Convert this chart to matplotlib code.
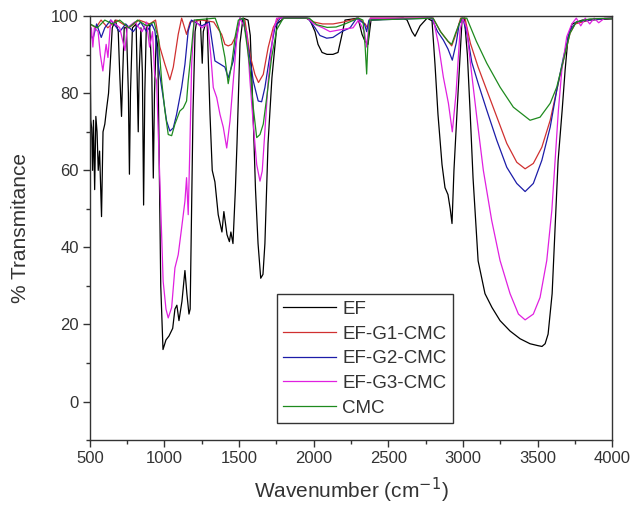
import matplotlib
matplotlib.use("Agg")
import matplotlib.pyplot as plt
from matplotlib.ticker import MultipleLocator

plt.rcParams['font.family'] = ['Liberation Sans', 'DejaVu Sans']

# FTIR spectra (wavenumber, % transmittance)
ef_x = [500, 506, 512, 518, 524, 532, 540, 548, 556, 565, 578, 588, 600, 612, 625, 640, 650,
        670, 690, 700, 712, 720, 730, 745, 758, 765, 772, 785, 810, 818, 824, 830, 842, 852,
        860, 868, 878, 900, 915, 925, 933, 945, 955, 965, 975, 990, 1010, 1030, 1055, 1070,
        1083, 1097, 1117, 1137, 1150, 1164, 1172, 1191, 1205, 1217, 1240, 1248, 1253, 1260,
        1285, 1305, 1320, 1338, 1360, 1385, 1398, 1419, 1435, 1445, 1459, 1475, 1486, 1506,
        1526, 1560, 1575, 1593, 1610, 1627, 1645, 1660, 1673, 1694, 1720, 1754, 1800, 1950,
        1975, 2009, 2029, 2056, 2089, 2129, 2163, 2190, 2210, 2297, 2324, 2344, 2364, 2384,
        2600, 2626, 2659, 2679, 2700, 2713, 2760, 2793, 2813, 2833, 2860, 2880, 2900, 2915,
        2927, 2940, 2961, 2994, 3010, 3030, 3048, 3068, 3102, 3148, 3195, 3249, 3316, 3383,
        3450, 3504, 3530, 3551, 3571, 3598, 3618, 3638, 3665, 3685, 3705, 3732, 3800, 4000]
ef_y = [95, 73, 71, 60, 73, 55, 74, 70, 60, 65, 48, 70, 72, 76, 80, 90, 97,
        99, 96, 85, 74, 85, 97, 97, 80, 59, 80, 97, 98, 82, 70, 85, 97, 85,
        51, 80, 97, 98, 85, 58, 80, 95, 92, 60, 30, 13.5, 16, 17, 19, 24,
        25, 21, 26, 34, 28, 22.7, 24, 75, 96, 99, 99, 92, 87.8, 96,
        99.5, 74.5, 60, 57, 48.5, 44, 49.3, 43.3, 41.5, 44, 41, 55, 67, 93,
        99.5, 99, 95, 75.5, 55, 41, 32, 33, 41, 67, 84, 98, 99.5, 99.5,
        99, 96, 92.7, 90.6, 90.1, 90.1, 90.6, 95.3, 99, 99.5, 95.3, 93.5, 92.7, 99,
        99.5, 99, 96, 94.8, 96.5, 97.5, 99.5, 98.8, 87.5, 74.5, 61.5, 55.5, 53.7, 50,
        46.2, 60, 75.5, 99, 99.5, 90, 75.5, 58, 36.5, 28, 24.4, 21, 18.3, 16.3,
        15, 14.5, 14.3, 15, 17.5, 28, 45, 62.5, 75.5, 86, 94.6, 98, 99, 99.3]

g1_x = [500, 540, 575, 620, 680, 760, 830, 900, 940, 969, 1003, 1036, 1059, 1092, 1115, 1148,
        1171, 1250, 1330, 1383, 1405, 1427, 1450, 1484, 1506, 1539, 1573, 1606, 1630, 1662,
        1695, 1729, 1763, 1950, 2000, 2060, 2130, 2200, 2300, 2345, 2360, 2380, 2800, 2850,
        2900, 2925, 2950, 2985, 3014, 3050, 3102, 3160, 3227, 3294, 3361, 3417, 3472, 3529,
        3585, 3629, 3674, 3718, 3752, 3850, 4000]
g1_y = [98, 97, 99, 97, 99, 97, 99, 98, 99, 92, 87.5, 83.5, 86.8, 95.3, 99.5, 95.3,
        98.5, 99, 98.5, 95.3, 92.7, 92.3, 92.7, 95.3, 99.5, 99, 90, 84.9, 82.8, 84.9,
        91.9, 97.1, 99.5, 99.5, 98.5, 98, 98, 98.5, 99.5, 98, 97, 99.5, 99.5, 96,
        93.5, 92.3, 95, 99.5, 99.5, 93, 86.8, 80.8, 73.9, 67, 62.1, 60.4, 61.8, 66,
        73, 80.8, 88.6, 95.6, 98, 99, 99.5]

g2_x = [500, 520, 545, 576, 600, 640, 700, 740, 790, 840, 880, 915, 936, 958, 991, 1014, 1036,
        1059, 1081, 1115, 1137, 1159, 1180, 1250, 1300, 1338, 1372, 1405, 1427, 1461, 1485,
        1506, 1530, 1561, 1595, 1628, 1651, 1673, 1707, 1740, 1774, 1960, 2009, 2042, 2087,
        2129, 2188, 2244, 2288, 2340, 2355, 2370, 2790, 2830, 2869, 2900, 2929, 2955, 2975,
        2999, 3030, 3060, 3102, 3160, 3227, 3294, 3361, 3417, 3472, 3529, 3585, 3629, 3674,
        3718, 3760, 3850, 4000]
g2_y = [96, 94, 98, 94.5, 97, 99, 96, 98, 96, 98.5, 96, 98, 96.2, 87.5, 79, 72.8, 70.2,
        71, 74.5, 81.5, 87.5, 96.2, 99, 97.5, 98.5, 88.4, 87.6, 86.8, 84, 88.4, 95,
        99.5, 99, 91.9, 83.2, 78, 77.8, 81.5, 90, 97.1, 99.5, 99.5, 97, 95, 94.3,
        94.5, 96, 97, 99.5, 98, 96, 99, 99.5, 96, 93.8, 91.5, 88.6, 93, 98,
        99.5, 95, 88, 82.6, 75.6, 67.8, 60.8, 56.6, 54.5, 56.6, 62.6, 71.2, 80.8, 89.4,
        96.4, 98.5, 99, 99.5]

g3_x = [500, 510, 520, 530, 555, 570, 587, 600, 609, 621, 640, 700, 735, 750, 800, 850, 880,
        900, 920, 934, 947, 969, 991, 1010, 1025, 1048, 1070, 1092, 1115, 1137, 1148, 1159,
        1170, 1182, 1199, 1250, 1290, 1310, 1327, 1350, 1372, 1394, 1417, 1439, 1461, 1484,
        1506, 1551, 1573, 1595, 1618, 1640, 1655, 1673, 1695, 1729, 1752, 1960, 2000, 2060,
        2109, 2180, 2264, 2300, 2340, 2355, 2368, 2380, 2800, 2835, 2869, 2903, 2929, 2954,
        2981, 2999, 3025, 3048, 3093, 3137, 3193, 3249, 3316, 3372, 3417, 3472, 3517, 3562,
        3596, 3618, 3640, 3663, 3696, 3730, 3760, 3790, 3820, 3850, 3880, 3910, 3950, 4000]
g3_y = [92, 97, 92, 97, 96, 90, 85.8, 90, 92.7, 89.3, 99, 97, 91.1, 97, 98.5, 96, 98.5,
        92, 96, 84.9, 83.2, 57.2, 31.2, 24, 21.7, 24.4, 34.7, 38.1, 45.1, 52, 58.1, 48.5,
        65.9, 87.5, 99, 97, 98, 90, 81.5, 78.9, 74.5, 71.2, 65.8, 72.8, 83.2, 94,
        99.5, 96, 83.2, 72, 61.5, 57.2, 59.8, 70.2, 83.2, 96, 99.5, 99.5, 98, 97,
        96, 96.5, 97, 99, 96, 92, 97, 99.5, 99.5, 93, 84.2, 77.4, 70, 80,
        96.4, 99.5, 97, 88.6, 73.8, 60, 47, 36.6, 28, 22.7, 21.2, 22.7, 27, 36.6,
        49.6, 62.6, 75.6, 86, 94.7, 98, 99.5, 97.5, 99.5, 98, 99.5, 98.3, 99.5, 99.5]

cmc_x = [500, 550, 600, 650, 700, 760, 820, 880, 930, 960, 981, 1003, 1025, 1048, 1070, 1103,
         1126, 1148, 1159, 1182, 1199, 1340, 1372, 1405, 1427, 1450, 1475, 1495, 1528, 1573,
         1595, 1618, 1640, 1662, 1685, 1718, 1752, 1796, 1970, 2020, 2090, 2150, 2210, 2300,
         2330, 2345, 2355, 2362, 2375, 2800, 2850, 2900, 2925, 2950, 2990, 3026, 3090, 3160,
         3249, 3338, 3450, 3517, 3585, 3629, 3674, 3718, 3760, 3850, 4000]
cmc_y = [98, 97, 99, 98, 99, 97, 99, 97.5, 98.5, 94, 83.2, 75.4, 69.3, 69, 72, 75.4,
         76.2, 78, 83.2, 92, 99, 99.5, 96, 89.3, 82.5, 87.5, 95, 99, 99.5, 86.7,
         76.3, 68.5, 69.3, 72, 78.9, 89.3, 96.5, 99.5, 99.5, 97.8, 97.1, 97.2, 98, 99.5,
         99, 92, 85, 92, 99, 99.5, 96, 93.5, 92.7, 95.5, 99.5, 99.5, 93.5, 87.8,
         81.6, 76.4, 73, 73.8, 77.4, 81.6, 88.6, 95.6, 98.5, 99.3, 99.5]

series = [
    ("EF", ef_x, ef_y, "black"),
    ("EF-G1-CMC", g1_x, g1_y, "#d03030"),
    ("EF-G2-CMC", g2_x, g2_y, "#1c1ca8"),
    ("EF-G3-CMC", g3_x, g3_y, "#e020e0"),
    ("CMC", cmc_x, cmc_y, "#1e8a1e"),
]

fig = plt.figure(figsize=(6.33, 5.07), dpi=100)
ax = fig.add_axes([0.142, 0.132, 0.825, 0.836])

for name, xs, ys, col in series:
    ax.plot(xs, ys, color=col, lw=0.9, label=name)

ax.set_xlim(500, 4000)
ax.set_ylim(-10, 100)
ax.xaxis.set_major_locator(MultipleLocator(500))
ax.xaxis.set_minor_locator(MultipleLocator(250))
ax.yaxis.set_major_locator(MultipleLocator(20))
ax.yaxis.set_minor_locator(MultipleLocator(10))
ax.tick_params(which='major', direction='out', length=5, width=1, labelsize=12,
               colors='#333333', pad=3)
ax.tick_params(which='minor', direction='out', length=3, width=1, colors='#333333')
for sp in ax.spines.values():
    sp.set_color('#333333')
    sp.set_linewidth(1)

ax.set_xlabel("Wavenumber (cm$^{-1}$)", fontsize=15, color='#333333', labelpad=7)
ax.set_ylabel("% Transmitance", fontsize=15, color='#333333', labelpad=15)

leg = ax.legend(loc='lower left', bbox_to_anchor=(0.358, 0.04), fontsize=13.5,
                fancybox=False, framealpha=1, edgecolor='#333333', handlelength=2.8,
                borderpad=0.35, labelspacing=0.4, handletextpad=0.35, borderaxespad=0)
leg.get_frame().set_linewidth(1)
for t in leg.get_texts():
    t.set_color('#333333')

fig.savefig("out.png", dpi=100)
